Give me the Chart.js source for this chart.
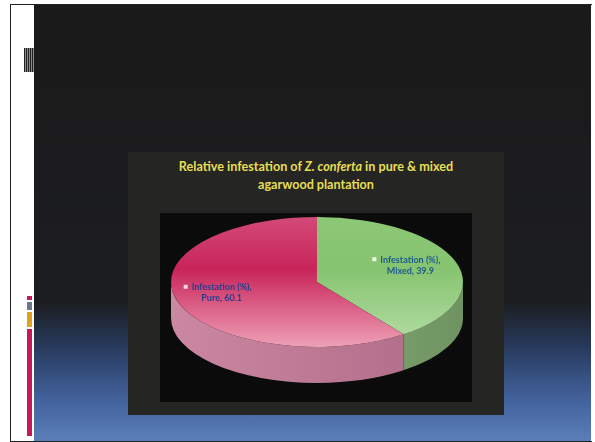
<!DOCTYPE html>
<html>
<head>
<meta charset="utf-8">
<title>Relative infestation of Z. conferta</title>
<script src="https://cdn.jsdelivr.net/npm/chart.js@4/dist/chart.umd.min.js"></script>
<style>
  html, body { margin: 0; padding: 0; background: #fff; }
  #page { position: relative; width: 595px; height: 442px; overflow: hidden; background: #fff; }
  #frame { position: absolute; left: 10px; top: 4px; width: 581px; height: 436px; border: 1px solid #222; border-right: none; }
  #slide {
    position: absolute; left: 34px; top: 5px; width: 557px; height: 436px;
    background: linear-gradient(to bottom, #1a1a1a 0%, #1c1d20 68%, #27395a 78%, #41609a 90%, #5a7fb8 100%);
  }
  #barcode {
    position: absolute; left: 24px; top: 48px; width: 10px; height: 24px;
    background: repeating-linear-gradient(to right, #222 0px, #222 1px, #888 1px, #888 2px);
  }
  .bar { position: absolute; left: 27px; width: 5px; }
  #panel { position: absolute; left: 128px; top: 152px; width: 376px; height: 263px; background: #252523; }
  #plotArea { position: absolute; left: 160px; top: 213px; width: 312px; height: 189px; background: #0b0b0b; }
  #title {
    position: absolute; left: 128px; top: 158px; width: 376px; text-align: center;
    font-family: Lato, "Open Sans", sans-serif; font-weight: bold; font-size: 12.6px; line-height: 18px;
    color: #e6df55;
  }
  #pie { position: absolute; left: 0; top: 0; }
</style>
</head>
<body>
<div id="page">
  <div id="frame"></div>
  <div id="slide"></div>
  <div id="barcode"></div>
  <div class="bar" style="top:296px;height:4px;background:#c8185a"></div>
  <div class="bar" style="top:302px;height:8px;background:#6a7a8a"></div>
  <div class="bar" style="top:312px;height:15px;background:#e0a020"></div>
  <div class="bar" style="top:329px;height:107px;background:#c8185a"></div>
  <div id="panel"></div>
  <div id="plotArea"></div>
  <div id="title">Relative infestation of <i>Z. conferta</i> in pure &amp; mixed<br>agarwood plantation</div>
  <canvas id="pie" width="595" height="442"></canvas>
</div>
<script>
'use strict';

// chart data
let seriesName = 'Infestation (%)';
let categories = ['Mixed', 'Pure'];
let values = [39.9, 60.1];

// slice colours: top face gradient stops, side colours, label colours
let topColors = [
  ['#8cc776', '#86c470', '#b6dea6'],
  ['#d24a78', '#c8245a', '#eea0b6']
];
let sideColors = [
  ['#8fb880', '#6f9462'],
  ['#cc88a2', '#ad6a86']
];
let labelColors = ['#1d5b8e', '#2d3a8c'];
let keyColors = ['#eef6e4', '#f6dbe4'];

// squash of the pie into an ellipse and thickness of the rim
let tilt = 0.445;
let depth = 36;

function faceGradient(context) {
  let chart = context.chart;
  let area = chart.chartArea;
  let stops = topColors[context.dataIndex];
  if (!area) {
    return stops[1];
  }
  let g = chart.ctx.createLinearGradient(0, area.top, 0, area.bottom);
  g.addColorStop(0, stops[0]);
  g.addColorStop(0.4, stops[1]);
  g.addColorStop(1, stops[2]);
  return g;
}

// rim of the slice between angles a and b, front half only
function drawSide(ctx, arc, index) {
  let p = arc.getProps(['x', 'y', 'startAngle', 'endAngle', 'outerRadius'], true);
  let r = p.outerRadius;
  let ry = r * tilt;
  let offsets = [-2 * Math.PI, 0, 2 * Math.PI];
  for (let k = 0; k < offsets.length; k++) {
    let a = Math.max(p.startAngle, offsets[k]);
    let b = Math.min(p.endAngle, offsets[k] + Math.PI);
    if (b <= a) {
      continue;
    }
    let g = ctx.createLinearGradient(p.x - r, 0, p.x + r, 0);
    g.addColorStop(0, sideColors[index][0]);
    g.addColorStop(1, sideColors[index][1]);
    ctx.beginPath();
    ctx.ellipse(p.x, p.y, r, ry, 0, a - offsets[k], b - offsets[k]);
    ctx.ellipse(p.x, p.y + depth, r, ry, 0, b - offsets[k], a - offsets[k], true);
    ctx.closePath();
    ctx.fillStyle = g;
    ctx.fill();
  }
}

let tiltPlugin = {
  id: 'tilt',
  beforeDatasetsDraw(chart) {
    let ctx = chart.ctx;
    let arcs = chart.getDatasetMeta(0).data;
    for (let i = 0; i < arcs.length; i++) {
      drawSide(ctx, arcs[i], i);
    }
    let cy = arcs[0].y;
    ctx.save();
    ctx.translate(0, cy);
    ctx.scale(1, tilt);
    ctx.translate(0, -cy);
  },
  afterDatasetsDraw(chart) {
    chart.ctx.restore();
  }
};

// data labels: series name, category and value with a small key
let labelPlugin = {
  id: 'sliceLabels',
  afterDraw(chart) {
    let ctx = chart.ctx;
    let arcs = chart.getDatasetMeta(0).data;
    ctx.save();
    ctx.font = 'bold 9px Lato, "Open Sans", sans-serif';
    ctx.textAlign = 'center';
    ctx.textBaseline = 'middle';
    for (let i = 0; i < arcs.length; i++) {
      let p = arcs[i].getProps(['x', 'y', 'startAngle', 'endAngle', 'outerRadius'], true);
      let mid = (p.startAngle + p.endAngle) / 2;
      let lx = p.x + p.outerRadius * 0.68 * Math.cos(mid) - 1;
      let ly = p.y + p.outerRadius * tilt * 0.68 * Math.sin(mid) - 3;
      let line1 = seriesName + ',';
      let line2 = categories[i] + ', ' + values[i];
      let w1 = ctx.measureText(line1).width;
      ctx.fillStyle = labelColors[i];
      ctx.fillText(line1, lx, ly - 5.5);
      ctx.fillText(line2, lx, ly + 5.5);
      ctx.fillStyle = keyColors[i];
      ctx.fillRect(lx - w1 / 2 - 8, ly - 8, 4, 4);
    }
    ctx.restore();
  }
};

let chartObject = {
  type: 'pie',
  data: {
    labels: categories,
    datasets: [{
      label: seriesName,
      data: values,
      backgroundColor: faceGradient,
      borderWidth: 0,
      hoverOffset: 0
    }]
  },
  options: {
    responsive: false,
    animation: false,
    events: [],
    layout: {
      padding: { left: 171, right: 132, top: 136, bottom: 14 }
    },
    plugins: {
      legend: { display: false },
      tooltip: { enabled: false },
      title: { display: false }
    }
  },
  plugins: [tiltPlugin, labelPlugin]
};

let ctx = document.getElementById('pie').getContext('2d');
let myChart = new Chart(ctx, chartObject);
</script>
</body>
</html>
